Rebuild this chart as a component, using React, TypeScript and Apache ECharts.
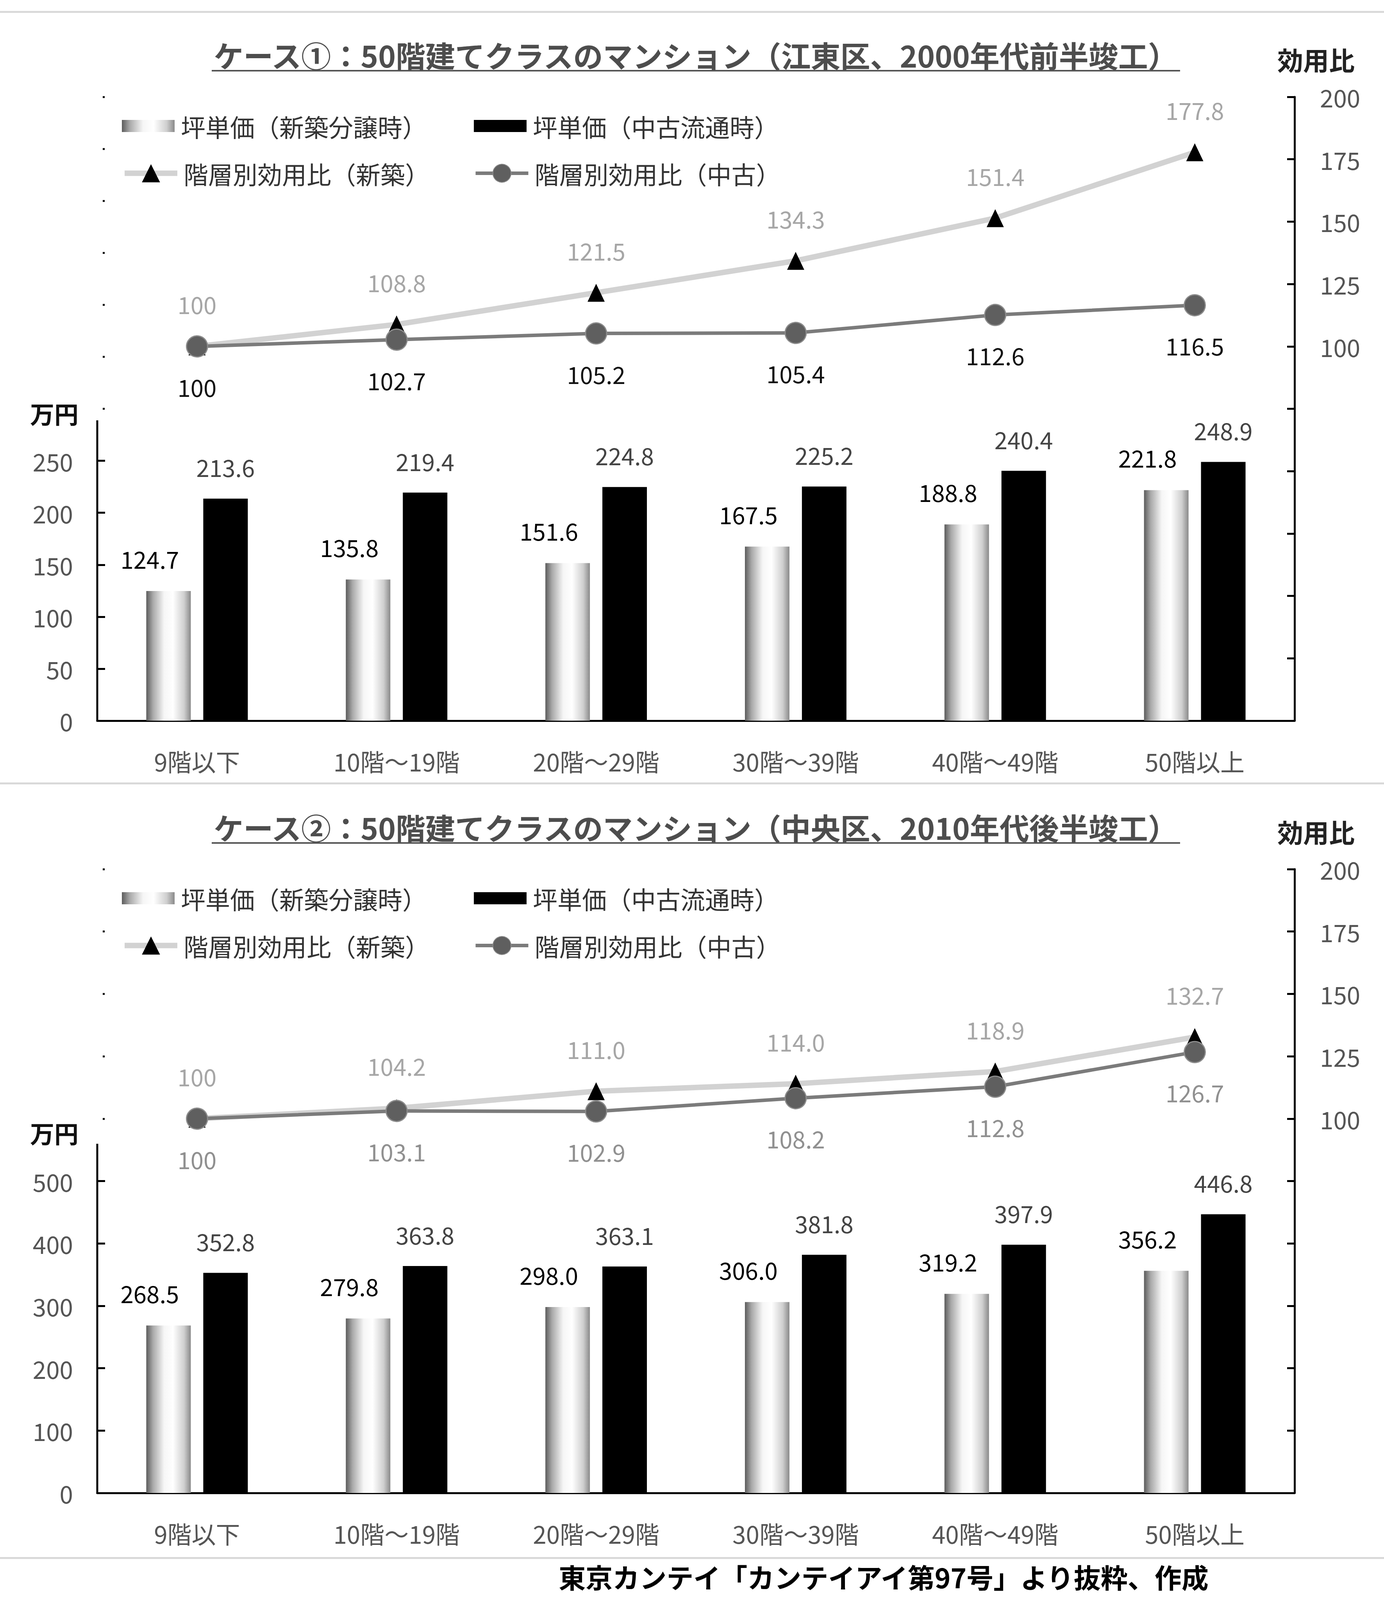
import React, { useRef, useEffect } from 'react';
import * as echarts from 'echarts';

const floors = ['9階以下', '10階～19階', '20階～29階', '30階～39階', '40階～49階', '50階以上'];

// ケース①
const newPrice1 = [124.7, 135.8, 151.6, 167.5, 188.8, 221.8];
const usedPrice1 = [213.6, 219.4, 224.8, 225.2, 240.4, 248.9];
const newRatio1 = [100, 108.8, 121.5, 134.3, 151.4, 177.8];
const usedRatio1 = [100, 102.7, 105.2, 105.4, 112.6, 116.5];

// ケース②
const newPrice2 = [268.5, 279.8, 298.0, 306.0, 319.2, 356.2];
const usedPrice2 = [352.8, 363.8, 363.1, 381.8, 397.9, 446.8];
const newRatio2 = [100, 104.2, 111.0, 114.0, 118.9, 132.7];
const usedRatio2 = [100, 103.1, 102.9, 108.2, 112.8, 126.7];

const leftTicks1 = [0, 50, 100, 150, 200, 250];
const dotTicks1 = [300, 350, 400, 450, 500, 550, 600];
const leftTicks2 = [0, 100, 200, 300, 400, 500];
const dotTicks2 = [600, 700, 800, 900, 1000];
const rightTicks = [100, 125, 150, 175, 200];

const titles = [
  'ケース①：50階建てクラスのマンション（江東区、2000年代前半竣工）',
  'ケース②：50階建てクラスのマンション（中央区、2010年代後半竣工）',
];
const names = ['坪単価（新築分譲時）', '坪単価（中古流通時）', '階層別効用比（新築）', '階層別効用比（中古）'];
const source = '東京カンテイ「カンテイアイ第97号」より抜粋、作成';

const FONT = '"Noto Sans CJK JP", "Noto Sans", sans-serif';
const GRID_TOPS = [248, 2225];
const GRID_H = 1597;
const AXIS_TOPS = [1076, 2928];
const UNIT_Y = [1058, 2900];
const NEW_LINE_W = 14;
const USED_LINE_W = 9;

const barGradient = {
  type: 'linear', x: 0, y: 0, x2: 1, y2: 0,
  colorStops: [
    { offset: 0, color: '#5c5c5c' },
    { offset: 0.15, color: '#a9a9a9' },
    { offset: 0.4, color: '#f6f6f6' },
    { offset: 0.6, color: '#ffffff' },
    { offset: 0.85, color: '#cfcfcf' },
    { offset: 1, color: '#8a8a8a' },
  ],
};

const fmt = (v: number) => (v === 100 ? '100' : v.toFixed(1));

const App = () => {
  const chartRef = useRef(null);

  useEffect(() => {
    document.body.style.margin = '0';
    const myChart = echarts.init(chartRef.current, null, { renderer: 'svg' });

    const xAxis = [0, 1].map((g) => ({
      type: 'category',
      gridIndex: g,
      data: floors,
      axisLine: { onZero: false, lineStyle: { color: '#000', width: 5 } },
      axisTick: { inside: true, length: 19, lineStyle: { color: '#000', width: 5 } },
      axisLabel: { margin: 72, fontSize: 62, color: '#555', fontFamily: FONT },
    }));

    const yAxis: any[] = [];
    [0, 1].forEach((g) => {
      const max = g === 0 ? 600 : 1000;
      const step = g === 0 ? 50 : 100;
      const ticks = g === 0 ? leftTicks1 : leftTicks2;
      const dots = g === 0 ? dotTicks1 : dotTicks2;
      yAxis.push({
        type: 'value', gridIndex: g, position: 'left', min: 0, max, interval: step,
        axisLine: { show: false },
        axisTick: { show: true, inside: true, length: 20, customValues: ticks, lineStyle: { color: '#000', width: 5 } },
        axisLabel: {
          customValues: ticks, margin: 62, fontSize: 62, color: '#555', fontFamily: FONT,
          formatter: (v: number) => (ticks.indexOf(v) >= 0 ? String(v) : ''),
        },
        splitLine: { show: false },
      });
      yAxis.push({
        type: 'value', gridIndex: g, position: 'right', min: -50, max: 200, interval: 25,
        axisLine: { show: true, lineStyle: { color: '#000', width: 5 } },
        axisTick: { show: true, inside: true, length: 19, lineStyle: { color: '#000', width: 5 } },
        axisLabel: {
          customValues: rightTicks, margin: 65, fontSize: 62, color: '#555', fontFamily: FONT,
          formatter: (v: number) => (v >= 100 ? String(v) : ''),
        },
        splitLine: { show: false },
      });
      yAxis.push({
        type: 'value', gridIndex: g, position: 'left', offset: -14, min: 0, max, interval: step,
        axisLine: { show: false },
        axisTick: { show: true, inside: true, length: 5, customValues: dots, lineStyle: { color: '#000', width: 5 } },
        axisLabel: { show: false },
        splitLine: { show: false },
      });
    });

    const makeSeries = (g: number, np: number[], up: number[], nr: number[], ur: number[]) => [
      {
        name: names[0], type: 'bar', xAxisIndex: g, yAxisIndex: g * 3, data: np,
        barWidth: 114, barGap: '28%',
        itemStyle: { color: barGradient },
        label: {
          show: true, position: 'top', distance: 54, offset: [-48, 0],
          fontSize: 60, color: '#000', fontFamily: FONT, formatter: (p: any) => p.value.toFixed(1),
        },
      },
      {
        name: names[1], type: 'bar', xAxisIndex: g, yAxisIndex: g * 3, data: up,
        barWidth: 114, barGap: '28%',
        itemStyle: { color: '#000' },
        label: {
          show: true, position: 'top', distance: 52,
          fontSize: 60, color: '#444', fontFamily: FONT, formatter: (p: any) => p.value.toFixed(1),
        },
      },
      {
        name: names[2], type: 'line', xAxisIndex: g, yAxisIndex: g * 3 + 1, data: nr,
        symbol: 'triangle', symbolSize: [44, 46],
        itemStyle: { color: '#000' },
        lineStyle: { color: '#d2d2d2', width: NEW_LINE_W },
        label: {
          show: true, position: 'top', distance: 56,
          fontSize: 60, color: '#a6a6a6', fontFamily: FONT, formatter: (p: any) => fmt(p.value),
        },
        z: 3,
      },
      {
        name: names[3], type: 'line', xAxisIndex: g, yAxisIndex: g * 3 + 1, data: ur,
        symbol: 'circle', symbolSize: 54,
        itemStyle: { color: '#5f5f5f', borderColor: '#8c8c8c', borderWidth: 3 },
        lineStyle: { color: '#7b7b7b', width: USED_LINE_W },
        label: {
          show: true, position: 'bottom', distance: 44,
          fontSize: 60, color: g === 0 ? '#111' : '#909090', fontFamily: FONT, formatter: (p: any) => fmt(p.value),
        },
        z: 4,
      },
    ];

    const legend: any[] = [];
    [0, 1].forEach((g) => {
      const off = GRID_TOPS[g] - GRID_TOPS[0];
      names.forEach((n, i) => {
        const row = i < 2 ? 0 : 1;
        legend.push({
          data: [n],
          left: i % 2 === 0 ? 312 : 1213,
          top: (row === 0 ? 291 : 412) + off,
          padding: 0,
          itemWidth: 135,
          itemHeight: row === 0 ? 31 : 58,
          icon: row === 0 ? 'rect' : undefined,
          lineStyle: row === 1 ? { width: i === 2 ? NEW_LINE_W : USED_LINE_W } : undefined,
          selectedMode: false,
          textStyle: { fontSize: 63, color: '#333', fontFamily: FONT, padding: [0, 0, 0, 11] },
        });
      });
    });

    const textEl = (text: string, x: number, y: number, size: number, weight: string, fill: string) => ({
      type: 'text', x, y,
      style: {
        text, fontSize: size, fontWeight: weight, fontFamily: FONT, fill,
        align: 'center', verticalAlign: 'middle', textAlign: 'center', textVerticalAlign: 'middle',
      },
    });

    const graphic: any[] = [];
    [30, 2005, 3988].forEach((y) => {
      graphic.push({ type: 'rect', shape: { x: 0, y: y - 2, width: 3543, height: 5 }, style: { fill: '#d9d9d9' } });
    });
    [0, 1].forEach((g) => {
      const off = GRID_TOPS[g] - GRID_TOPS[0];
      graphic.push(textEl(titles[g], 1781, 140 + off, 76, 'bold', '#4d4d4d'));
      graphic.push({ type: 'line', shape: { x1: 542, y1: 181 + off, x2: 3021, y2: 181 + off }, style: { stroke: '#555', lineWidth: 4 } });
      graphic.push(textEl('効用比', 3369, 151 + off, 66, 'bold', '#222'));
      graphic.push(textEl('万円', 139, UNIT_Y[g], 62, 'bold', '#111'));
      graphic.push({
        type: 'line',
        shape: { x1: 249, y1: AXIS_TOPS[g], x2: 249, y2: GRID_TOPS[g] + GRID_H + 2 },
        style: { stroke: '#000', lineWidth: 5 },
      });
    });
    graphic.push(textEl(source, 2262, 4036, 69, 'bold', '#000'));

    const option = {
      animation: false,
      backgroundColor: '#fff',
      textStyle: { fontFamily: FONT },
      grid: GRID_TOPS.map((t) => ({ left: 249, right: 229, top: t, height: GRID_H })),
      xAxis,
      yAxis,
      legend,
      series: [
        ...makeSeries(0, newPrice1, usedPrice1, newRatio1, usedRatio1),
        ...makeSeries(1, newPrice2, usedPrice2, newRatio2, usedRatio2),
      ],
      graphic,
    };

    myChart.setOption(option);

    return () => {
      myChart.dispose();
    };
  }, []);

  return <div ref={chartRef} style={{ width: '3543px', height: '4140px' }} />;
};

export default App;
